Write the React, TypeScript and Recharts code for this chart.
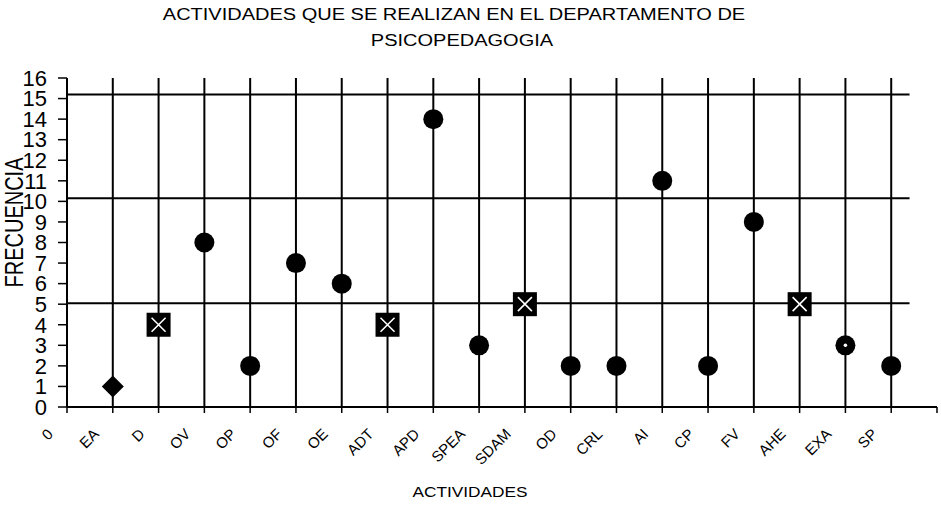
import { ScatterChart, Scatter, XAxis, YAxis, ReferenceLine } from "recharts";

const actividades = ["EA", "D", "OV", "OP", "OF", "OE", "ADT", "APD", "SPEA", "SDAM", "OD", "CRL", "AI", "CP", "FV", "AHE", "EXA", "SP"];
const frecuencias = [1, 4, 8, 2, 7, 6, 4, 14, 3, 5, 2, 2, 11, 2, 9, 5, 3, 2];

// which activities are drawn with which marker
const conCuadro = ["D", "ADT", "SDAM", "AHE"];
const conRombo = ["EA"];
const conPunto = ["EXA"];

const xTickLabels = ["0", ...actividades, ""];
const xTicks = xTickLabels.map((_, i) => i);
const yTicks = [0, 1, 2, 3, 4, 5, 6, 7, 8, 9, 10, 11, 12, 13, 14, 15, 16];
const lineasH = [5.05, 10.15, 15.2];
const finLineasH = 18.4;

const puntos = actividades.map((a, i) => ({ x: i + 1, y: frecuencias[i], nombre: a }));
const circulos = puntos.filter((p) => !conCuadro.includes(p.nombre) && !conRombo.includes(p.nombre) && !conPunto.includes(p.nombre));
const cuadros = puntos.filter((p) => conCuadro.includes(p.nombre));
const rombos = puntos.filter((p) => conRombo.includes(p.nombre));
const punteados = puntos.filter((p) => conPunto.includes(p.nombre));

const FONT = "'Liberation Sans', Arial, sans-serif";

const Circulo = ({ cx, cy }: any) => <circle cx={cx} cy={cy} r={10} fill="#000" />;
const CirculoPunto = ({ cx, cy }: any) => (
  <g>
    <circle cx={cx} cy={cy} r={10} fill="#000" />
    <circle cx={cx} cy={cy} r={1.8} fill="#fff" />
  </g>
);
const CuadroX = ({ cx, cy }: any) => (
  <g>
    <rect x={cx - 12} y={cy - 12} width={24} height={24} fill="#000" />
    <path d={`M${cx - 7} ${cy - 7}L${cx + 7} ${cy + 7}M${cx + 7} ${cy - 7}L${cx - 7} ${cy + 7}`} stroke="#fff" strokeWidth={1.6} />
  </g>
);
const Rombo = ({ cx, cy }: any) => (
  <polygon points={`${cx},${cy - 11} ${cx + 11},${cy} ${cx},${cy + 11} ${cx - 11},${cy}`} fill="#000" />
);

const XTick = ({ x, y, payload }: any) => {
  const ax = x - 13;
  const ay = y + 20;
  return (
    <text x={ax} y={ay} transform={`rotate(-45 ${ax} ${ay})`} textAnchor="end" fontSize={15} fontFamily={FONT} fill="#000">
      {xTickLabels[payload.value]}
    </text>
  );
};

export default function App() {
  return (
    <div style={{ position: "absolute", left: 0, top: 0, width: 941, height: 505, background: "#fff", fontFamily: FONT }}>
      <div style={{ position: "absolute", left: 154, top: 6, width: 600, textAlign: "center", fontSize: 16, transform: "scaleX(1.25)", whiteSpace: "nowrap", color: "#000" }}>
        ACTIVIDADES QUE SE REALIZAN EN EL DEPARTAMENTO DE
      </div>
      <div style={{ position: "absolute", left: 162, top: 32, width: 600, textAlign: "center", fontSize: 16, transform: "scaleX(1.25)", whiteSpace: "nowrap", color: "#000" }}>
        PSICOPEDAGOGIA
      </div>
      <div style={{ position: "absolute", left: 0, top: 0, width: 30, height: 445, display: "flex", alignItems: "center", justifyContent: "center" }}>
        <div style={{ transform: "rotate(-90deg) scaleY(1.25)", fontSize: 20, whiteSpace: "nowrap", color: "#000" }}>FRECUENCIA</div>
      </div>
      <div style={{ position: "absolute", left: 370, top: 483, width: 200, textAlign: "center", fontSize: 15, transform: "scaleX(1.15)", color: "#000" }}>
        ACTIVIDADES
      </div>
      <ScatterChart width={941} height={505} margin={{ top: 78, right: 4, bottom: 38, left: 7 }}>
        <XAxis
          type="number"
          dataKey="x"
          domain={[0, 19]}
          ticks={xTicks}
          interval={0}
          height={60}
          tickSize={6}
          tickMargin={2}
          axisLine={{ stroke: "#000", strokeWidth: 2 }}
          tickLine={{ stroke: "#000", strokeWidth: 1.5 }}
          tick={<XTick />}
          allowDataOverflow
        />
        <YAxis
          type="number"
          dataKey="y"
          domain={[0, 16]}
          ticks={yTicks}
          interval={0}
          width={60}
          tickSize={9}
          tickMargin={11}
          axisLine={{ stroke: "#000", strokeWidth: 2 }}
          tickLine={{ stroke: "#000", strokeWidth: 1.5 }}
          tick={{ fill: "#000", fontSize: 22, fontFamily: FONT }}
          allowDataOverflow
        />
        {actividades.map((a, i) => (
          <ReferenceLine key={a} x={i + 1} stroke="#000" strokeWidth={2} />
        ))}
        {lineasH.map((v) => (
          <ReferenceLine key={v} segment={[{ x: 0, y: v }, { x: finLineasH, y: v }]} stroke="#000" strokeWidth={2} />
        ))}
        <Scatter data={circulos} shape={Circulo} isAnimationActive={false} />
        <Scatter data={punteados} shape={CirculoPunto} isAnimationActive={false} />
        <Scatter data={cuadros} shape={CuadroX} isAnimationActive={false} />
        <Scatter data={rombos} shape={Rombo} isAnimationActive={false} />
      </ScatterChart>
    </div>
  );
}
